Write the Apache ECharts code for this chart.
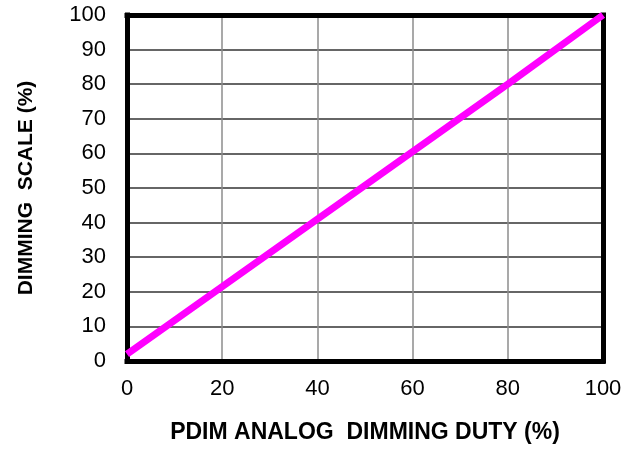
<!DOCTYPE html>
<html><head><meta charset="utf-8">
<script src="https://cdn.jsdelivr.net/npm/echarts@6/dist/echarts.min.js"></script>
<style>html,body{margin:0;padding:0;background:#fff}#c{width:635px;height:449px}</style>
</head><body><div id="c"></div>
<script>
const dutyX = [0, 20, 40, 60, 80, 100];
const scaleY = [2, 21.5, 41, 60.5, 80, 100];
const xTitle = 'PDIM ANALOG  DIMMING DUTY (%)';
const yTitle = 'DIMMING  SCALE (%)';

const chart = echarts.init(document.getElementById('c'));
const font = 'Liberation Sans, Arial, sans-serif';
const frame = { show: true, onZero: false, lineStyle: { color: '#000', width: 5, cap: 'square' } };
chart.setOption({
  animation: false,
  grid: { left: 127, right: 32, top: 15, bottom: 84 },
  xAxis: [{
    type: 'value', min: 0, max: 100, interval: 20, position: 'bottom',
    name: xTitle, nameLocation: 'middle', nameGap: 60,
    nameTextStyle: { fontFamily: font, fontWeight: 'bold', fontSize: 23, color: '#000' },
    axisLine: frame, axisTick: { show: false },
    axisLabel: { fontFamily: font, fontSize: 22, color: '#000', margin: 17 },
    splitLine: { show: true, lineStyle: { color: '#8c8c8c', width: 1.5 } }
  }, {
    type: 'value', min: 0, max: 100, interval: 20, position: 'top',
    axisLine: frame, axisTick: { show: false }, axisLabel: { show: false }, splitLine: { show: false }
  }],
  yAxis: [{
    type: 'value', min: 0, max: 100, interval: 10, position: 'left',
    name: yTitle, nameLocation: 'middle', nameGap: 90,
    nameTextStyle: { fontFamily: font, fontWeight: 'bold', fontSize: 21, color: '#000' },
    axisLine: frame, axisTick: { show: false },
    axisLabel: { fontFamily: font, fontSize: 22, color: '#000', margin: 21 },
    splitLine: { show: true, lineStyle: { color: '#333', width: 1.5 } }
  }, {
    type: 'value', min: 0, max: 100, interval: 10, position: 'right',
    axisLine: frame, axisTick: { show: false }, axisLabel: { show: false }, splitLine: { show: false }
  }],
  series: [{
    type: 'line', data: dutyX.map((x, i) => [x, scaleY[i]]),
    showSymbol: false, lineStyle: { color: '#ff00ff', width: 7 }, z: 1
  }]
});
</script></body></html>
